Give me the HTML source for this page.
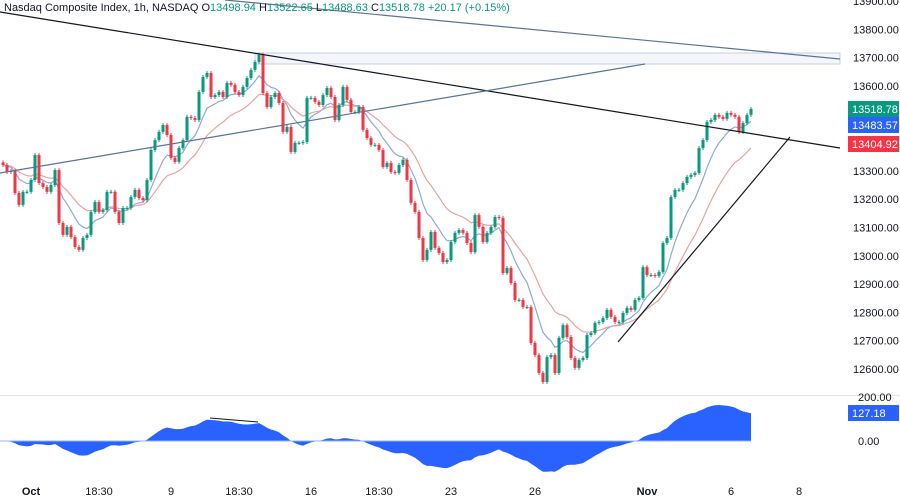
<!DOCTYPE html>
<html><head><meta charset="utf-8"><style>
html,body{margin:0;padding:0;background:#fff;width:900px;height:498px;overflow:hidden;font-family:"Liberation Sans",sans-serif}
svg{display:block}
</style></head><body>
<svg id="chart" width="900" height="498" xmlns="http://www.w3.org/2000/svg">
<rect x="0" y="0" width="900" height="498" fill="#fff"/>
<rect x="255" y="53" width="585" height="11" fill="#f4f6fb" stroke="#c5d0e3" stroke-width="1"/>
<line x1="0" y1="395.5" x2="900" y2="395.5" stroke="#e0e3eb"/>
<g id="osc"></g>
<g id="ema"></g>
<g id="candles"></g>
<line x1="0" y1="12" x2="840" y2="148" stroke="#131722" stroke-width="1.2"/>
<line x1="618" y1="342" x2="790" y2="137" stroke="#131722" stroke-width="1.2"/>
<line x1="0" y1="173" x2="645" y2="64" stroke="#5b7398" stroke-width="1.2"/>
<line x1="225" y1="0" x2="840" y2="59" stroke="#5b7398" stroke-width="1.2"/>
<g id="yaxis" font-size="11" fill="#131722"></g>
<g id="xaxis" font-size="11" fill="#131722"></g>
<text x="4" y="11" font-size="11" fill="#131722">Nasdaq Composite Index, 1h, NASDAQ <tspan fill="#131722">O</tspan><tspan fill="#089981">13498.94</tspan> <tspan fill="#131722">H</tspan><tspan fill="#089981">13522.65</tspan> <tspan fill="#131722">L</tspan><tspan fill="#089981">13488.63</tspan> <tspan fill="#131722">C</tspan><tspan fill="#089981">13518.78 +20.17 (+0.15%)</tspan></text>
</svg>
<script>
const closes=[13321,13296,13300,13222,13180,13226,13226,13268,13356,13257,13243,13226,13250,13303,13116,13074,13102,13066,13031,13021,13063,13074,13155,13190,13155,13162,13226,13226,13155,13116,13169,13169,13208,13233,13204,13197,13268,13374,13409,13438,13462,13427,13346,13332,13381,13409,13491,13487,13480,13579,13632,13646,13561,13568,13579,13561,13611,13604,13579,13568,13597,13628,13657,13685,13710,13575,13526,13561,13575,13540,13438,13455,13367,13399,13399,13402,13558,13558,13544,13533,13568,13593,13561,13480,13533,13597,13551,13508,13508,13526,13445,13416,13392,13392,13374,13314,13328,13296,13293,13321,13339,13268,13187,13155,13063,12985,13021,13084,13028,13010,12978,12985,13049,13081,13091,13081,13045,13013,13144,13102,13049,13081,13102,13137,13134,12939,12957,12904,12844,12844,12819,12819,12692,12649,12586,12554,12642,12649,12586,12710,12755,12713,12639,12604,12632,12639,12720,12727,12763,12766,12780,12809,12784,12766,12766,12798,12816,12809,12844,12851,12960,12932,12932,12929,12943,13045,13063,13208,13233,13233,13257,13279,13286,13293,13381,13409,13473,13480,13498,13491,13484,13505,13498,13491,13438,13469,13498,13518.78];
const priceTicks=[13900,13800,13700,13600,13300,13200,13100,13000,12900,12800,12700,12600];
const oscTicks=[200,0];
const timeLabels=["Oct","18:30","9","18:30","16","18:30","23","26","Nov","6","8"];
const timeBars=[7,24,42,59,77,94,112,133,161,182,199];
const NS="http://www.w3.org/2000/svg";
const py=p=>369-(p-12600)*0.283;
const px=i=>3+4*i;
const oy=v=>441-v*0.22;
function mk(tag,attrs,parent){const e=document.createElementNS(NS,tag);for(const k in attrs)e.setAttribute(k,attrs[k]);parent.appendChild(e);return e;}
function ema(arr,n){const k=2/(n+1);const out=[];let v=arr[0];arr.forEach((c,i)=>{v=i?c*k+v*(1-k):c;out.push(v);});return out;}
const cg=document.getElementById('candles');
closes.forEach((c,i)=>{
  const o=i?closes[i-1]:13330;
  const up=c>=o;const col=up?'#089981':'#f23645';
  const hi=Math.max(o,c)+7,lo=Math.min(o,c)-7;
  const w=mk('line',{x1:px(i),x2:px(i),y1:py(hi),y2:py(lo),stroke:col,'stroke-width':1},cg);
  
  
  const t=Math.min(py(o),py(c));const h=Math.max(1,Math.abs(py(o)-py(c)));
  const b=mk('rect',{x:px(i)-1.5,y:t,width:3,height:h,fill:col},cg);
  
  
});
const eg=document.getElementById('ema');
const fast=ema(closes,9),slow=ema(closes,20);
[[fast,'#8eaad6','fast-ema-line'],[slow,'#e8a3a3','slow-ema-line']].forEach(([a,col,nm])=>{
  const p=mk('path',{d:a.map((v,i)=>(i?'L':'M')+px(i)+','+py(v).toFixed(1)).join(''),fill:'none',stroke:col,'stroke-width':1.2},eg);
  
  
});
const e12=ema(closes,12),e26=ema(closes,26);
const osc=e12.map((v,i)=>v-e26[i]);
const og=document.getElementById('osc');
let d='M'+px(0)+','+oy(0);osc.forEach((v,i)=>{d+='L'+px(i)+','+oy(v).toFixed(1);});d+='L'+px(osc.length-1)+','+oy(0)+'Z';
const area=mk('path',{d:d,fill:'#2962ff'},og);


const zl=mk('line',{x1:0,x2:px(osc.length-1),y1:oy(0),y2:oy(0),stroke:'#90b4ff','stroke-width':1},og);


const dl=mk('line',{x1:210,y1:418,x2:258,y2:422,stroke:'#131722','stroke-width':1},og);


const ya=document.getElementById('yaxis');
priceTicks.forEach(p=>{const t=mk('text',{x:853,y:py(p)+4},ya);t.textContent=p.toFixed(2);
  
  });
oscTicks.forEach(v=>{const t=mk('text',{x:858,y:oy(v)+4},ya);t.textContent=v.toFixed(2);
  
  });
function badge(yc,col,txt,nm){const g=mk('g',{},ya);
  
  mk('rect',{x:848,y:yc-8,width:51,height:16,fill:col},g);const t=mk('text',{x:852,y:yc+4,fill:'#fff'},g);t.textContent=txt;}
const last=closes[closes.length-1];
badge(py(last),'#089981',last.toFixed(2),'last-price-label');
badge(py(last)+16,'#2962ff','13483.57','fast-ema-label');
badge(144,'#f23645','13404.92','slow-ema-label');
badge(oy(127.18),'#2962ff','127.18','oscillator-value-label');
const xa=document.getElementById('xaxis');
timeLabels.forEach((l,k)=>{const t=mk('text',{x:px(timeBars[k]),y:495,'text-anchor':'middle','font-weight':(l==='Oct'||l==='Nov')?'bold':'normal'},xa);t.textContent=l;
  
  });
</script>
</body></html>
